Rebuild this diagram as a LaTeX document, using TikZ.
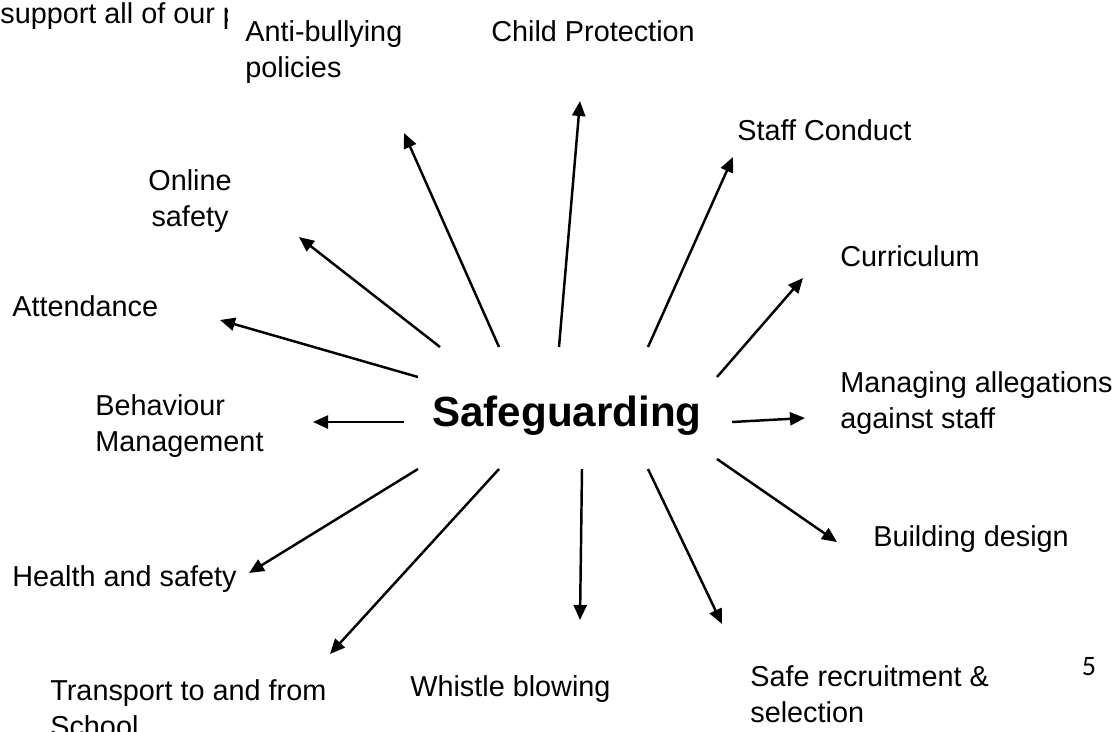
\documentclass[tikz,border=0pt]{standalone}
\usepackage{fontspec}
\setmainfont{Liberation Sans}
\newfontfamily\pagefont{Carlito}
\usetikzlibrary{arrows.meta, positioning}

\tikzset{
  topic/.style={inner sep=0pt, font=\fontsize{16.4}{20.5}\selectfont, align=left},
  spoke/.style={-{Triangle[length=0.3cm, width=0.26cm]}, line width=1.4pt}
}

\begin{document}
\begin{tikzpicture}[x=0.02cm, y=-0.02cm]
\useasboundingbox (0,0) rectangle (1119,731);

\begin{scope}
\clip (0,0) rectangle (227,40);
\node (Intro) [topic, anchor=west] at (0,16) {support all of our p};
\end{scope}

\node (Safe) [inner sep=0pt, font=\fontsize{24}{28}\selectfont\bfseries] at (567,416) {Safeguarding};

\node (Bully) [topic, anchor=west] at (245,52) {Anti-bullying\\policies};
\node (Child) [topic, anchor=west] at (491,31) {Child Protection};
\node (Staff) [topic, anchor=west] at (737,130) {Staff Conduct};
\node (Online) [topic, align=center] at (190,201) {Online\\safety};
\node (Curr) [topic, anchor=west] at (840,256) {Curriculum};
\node (Attend) [topic, anchor=west] at (12,306) {Attendance};
\node (Behav) [topic, anchor=west] at (95,426) {Behaviour\\Management};
\node (Alleg) [topic, anchor=west] at (840,403) {Managing allegations\\against staff};
\node (Build) [topic, anchor=west] at (873,539) {Building design};
\node (Health) [topic, anchor=west] at (12,579) {Health and safety};
\node (Trans) [topic, anchor=west] at (50,708) {Transport to and from\\School};
\node (Whistle) [topic, anchor=west] at (410,689) {Whistle blowing};
\node (Recruit) [topic, anchor=west] at (750,694) {Safe recruitment \&\\selection};
\node (Page) [inner sep=0pt, font=\pagefont\fontsize{16}{19}\selectfont] at (1089,667) {5};

% spoke ends round the centre word
\coordinate (bully-s) at (499,347);  \coordinate (bully-e) at (404,133);
\coordinate (child-s) at (559,347);  \coordinate (child-e) at (580,101);
\coordinate (staff-s) at (648,347);  \coordinate (staff-e) at (733,157);
\coordinate (curr-s) at (717,377);   \coordinate (curr-e) at (803,278);
\coordinate (alleg-s) at (732,422);  \coordinate (alleg-e) at (805,418);
\coordinate (build-s) at (717,459);  \coordinate (build-e) at (837,542);
\coordinate (recr-s) at (648,469);   \coordinate (recr-e) at (722,624);
\coordinate (whis-s) at (582,469);   \coordinate (whis-e) at (580,620);
\coordinate (trans-s) at (499,469);  \coordinate (trans-e) at (330,654);
\coordinate (health-s) at (418,469); \coordinate (health-e) at (249,573);
\coordinate (behav-s) at (404,422);  \coordinate (behav-e) at (313,422);
\coordinate (att-s) at (418,377);    \coordinate (att-e) at (220,320);
\coordinate (onl-s) at (440,347);    \coordinate (onl-e) at (299,237);

\draw[spoke] (bully-s) -- (bully-e);
\draw[spoke] (child-s) -- (child-e);
\draw[spoke] (staff-s) -- (staff-e);
\draw[spoke] (curr-s) -- (curr-e);
\draw[spoke] (alleg-s) -- (alleg-e);
\draw[spoke] (build-s) -- (build-e);
\draw[spoke] (recr-s) -- (recr-e);
\draw[spoke] (whis-s) -- (whis-e);
\draw[spoke] (trans-s) -- (trans-e);
\draw[spoke] (health-s) -- (health-e);
\draw[spoke] (behav-s) -- (behav-e);
\draw[spoke] (att-s) -- (att-e);
\draw[spoke] (onl-s) -- (onl-e);
\end{tikzpicture}
\end{document}
